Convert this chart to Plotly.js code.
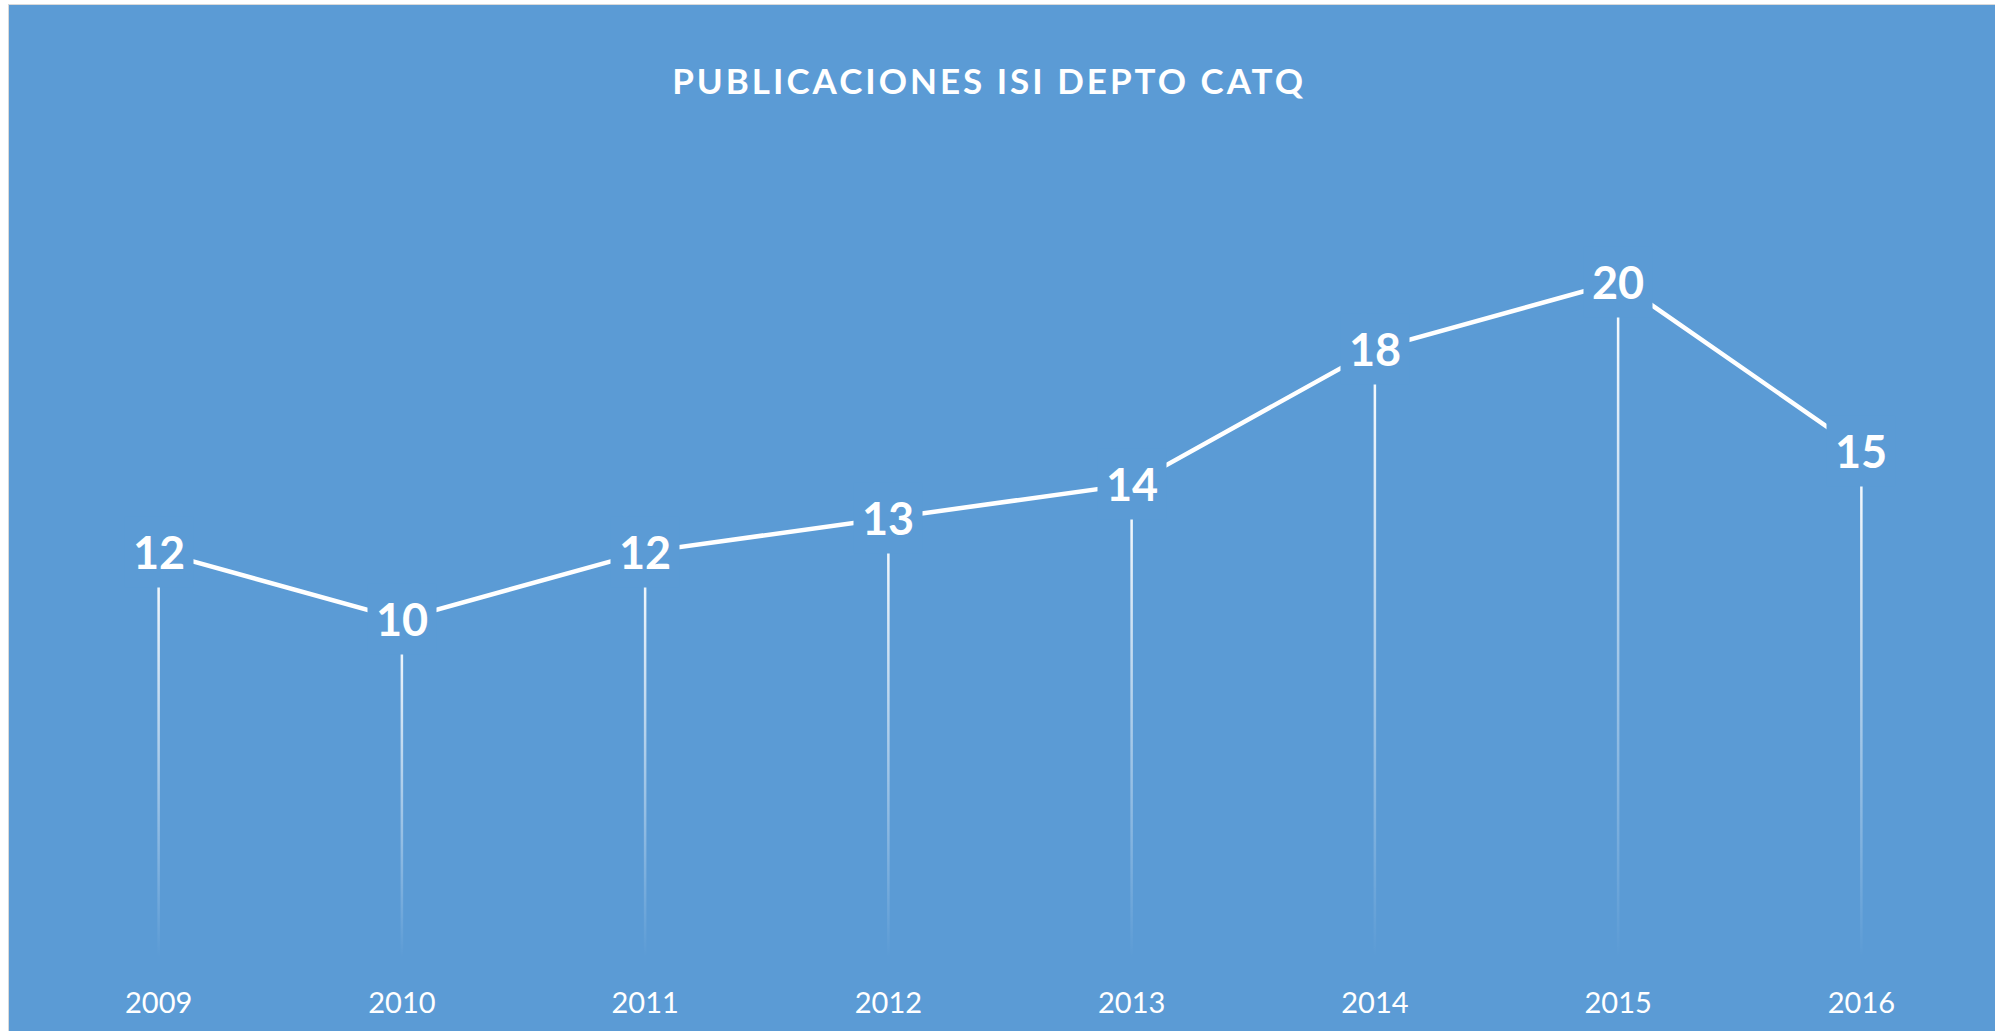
<!DOCTYPE html>
<html>
<head>
<meta charset="utf-8">
<script src="https://cdn.plot.ly/plotly-3.0.1.min.js"></script>
<style>
  html, body { margin: 0; padding: 0; background: #ffffff; width: 1995px; height: 1031px; overflow: hidden; }
  #frame { position: absolute; left: 8px; top: 4px; width: 1987px; height: 1027px;
           border-left: 1px solid #D9D9D9; border-top: 1px solid #D9D9D9; box-sizing: border-box; }
  #chart { position: absolute; left: 9px; top: 5px; width: 1986px; height: 1026px; }
  .gtitle { letter-spacing: 3px; }
</style>
</head>
<body>
<div id="frame"></div>
<div id="chart"></div>
<script>
// ---- data ----
const years = ["2009", "2010", "2011", "2012", "2013", "2014", "2015", "2016"];
const publications = [12, 10, 12, 13, 14, 18, 20, 15];
const chartTitle = "PUBLICACIONES ISI DEPTO CATQ";

// ---- style ----
const BG = "#5B9BD5";
const FONT = "Lato, 'Open Sans', sans-serif";
const idx = years.map((_, i) => i);
const halfW = 0.0052; // half width of drop lines (x units)

const traces = [];

// drop lines with vertical gradient (white at point -> transparent at axis)
idx.forEach((i) => {
  const v = publications[i];
  traces.push({
    type: "scatter",
    mode: "lines",
    x: [i - halfW, i + halfW, i + halfW, i - halfW, i - halfW],
    y: [0, 0, v, v, 0],
    fill: "toself",
    line: { width: 0, color: "rgba(255,255,255,0)" },
    fillgradient: {
      type: "vertical",
      start: 0,
      stop: v,
      colorscale: [[0, "rgba(255,255,255,0)"], [1, "rgba(255,255,255,1)"]]
    },
    hoverinfo: "skip",
    showlegend: false
  });
});

// main line
traces.push({
  type: "scatter",
  mode: "lines",
  x: idx,
  y: publications,
  line: { color: "#FFFFFF", width: 4.5 },
  hoverinfo: "x+y",
  showlegend: false
});

// data labels (boxes hide the line around each label)
const annotations = idx.map((i) => ({
  x: i,
  y: publications[i],
  xref: "x",
  yref: "y",
  text: String(publications[i]),
  showarrow: false,
  font: { family: FONT, size: 45, color: "#FFFFFF", weight: 700 },
  bgcolor: BG,
  borderpad: 8,
  xanchor: "center",
  yanchor: "middle"
}));

const layout = {
  width: 1986,
  height: 1026,
  paper_bgcolor: BG,
  plot_bgcolor: BG,
  margin: { l: 28, r: 12, t: 108, b: 74 },
  title: {
    text: "<b>" + chartTitle + "</b>",
    font: { family: FONT, size: 35, color: "#FFFFFF" },
    x: 0.4935,
    xanchor: "center",
    xref: "container",
    y: 0.925,
    yanchor: "middle",
    yref: "container"
  },
  xaxis: {
    range: [-0.5, 7.5],
    tickmode: "array",
    tickvals: idx,
    ticktext: years,
    showgrid: false,
    zeroline: false,
    showline: false,
    ticks: "",
    tickfont: { family: FONT, size: 29, color: "#FFFFFF" },
    ticklabelstandoff: 26,
    fixedrange: true
  },
  yaxis: {
    range: [0, 25],
    showgrid: false,
    zeroline: false,
    showline: false,
    showticklabels: false,
    ticks: "",
    fixedrange: true
  },
  annotations: annotations,
  showlegend: false
};

Plotly.newPlot("chart", traces, layout, { displayModeBar: false, staticPlot: false });
</script>
</body>
</html>
